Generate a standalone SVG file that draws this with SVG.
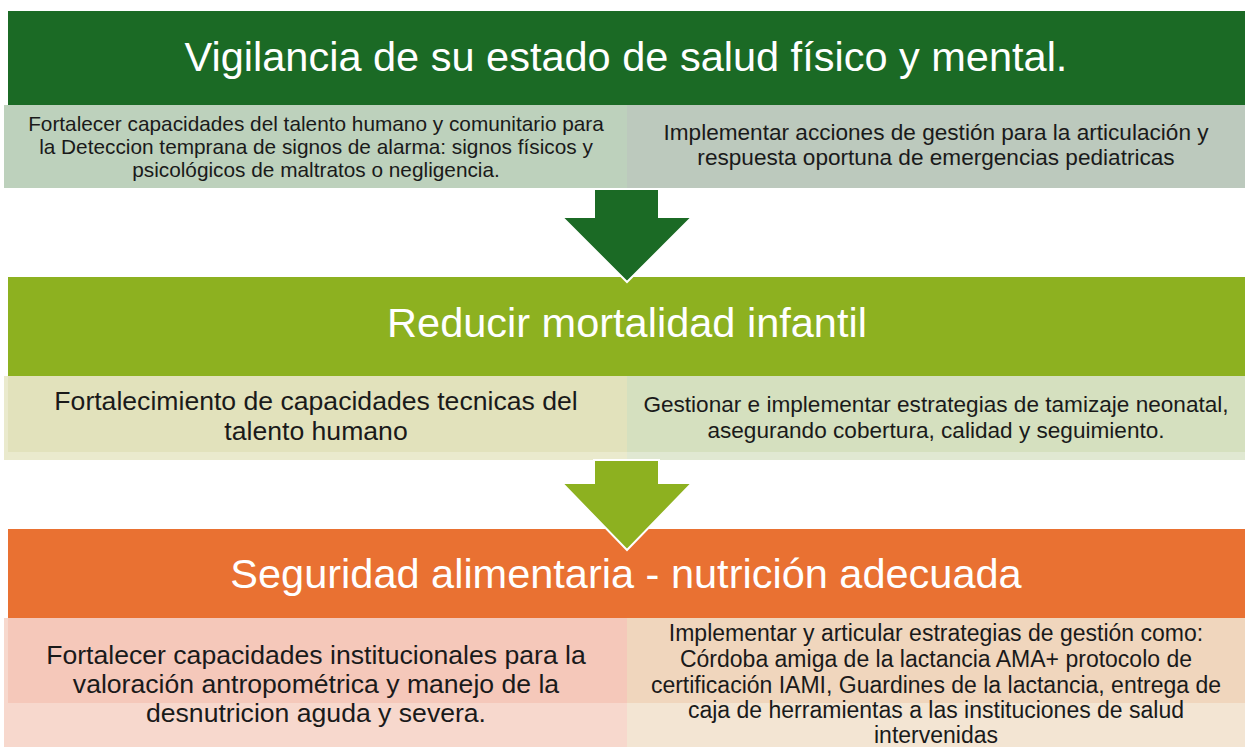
<svg xmlns="http://www.w3.org/2000/svg" width="1245" height="747" viewBox="0 0 1245 747">
<style>
.title{font-family:"Liberation Sans",Arial,sans-serif;fill:#ffffff;text-anchor:middle;font-size:41.5px}
.t{font-family:"Liberation Sans",Arial,sans-serif;fill:#1a1a1a;text-anchor:middle}
.arrow{stroke:#ffffff;stroke-width:2;stroke-linejoin:miter}
</style>
<rect width="1245" height="747" fill="#ffffff"/>
<g id="node-vigilancia">
<rect x="8" y="11" width="1237" height="94" fill="#1b6a25"/>
<text class="title" x="626" y="71">Vigilancia de su estado de salud físico y mental.</text>
</g>
<g id="node-vig-left">
<rect x="4" y="105" width="623" height="83" fill="#bdd1bc"/>
<text class="t" font-size="20.8"><tspan x="316" y="131">Fortalecer capacidades del talento humano y comunitario para</tspan><tspan x="316" y="154">la Deteccion temprana de signos de alarma: signos físicos y</tspan><tspan x="316" y="177">psicológicos de maltratos o negligencia.</tspan></text>
</g>
<g id="node-vig-right">
<rect x="627" y="105" width="618" height="83" fill="#bcc9bd"/>
<text class="t" font-size="22.6"><tspan x="936" y="140">Implementar acciones de gestión para la articulación y</tspan><tspan x="936" y="165">respuesta oportuna de emergencias pediatricas</tspan></text>
</g>
<g id="node-mortalidad">
<rect x="8" y="277" width="1237" height="99" fill="#8db120"/>
<text class="title" x="627" y="337">Reducir mortalidad infantil</text>
</g>
<g id="node-mort-left">
<rect x="4" y="376" width="623" height="84" fill="#eaeacd"/>
<rect x="8" y="376" width="619" height="76" fill="#e2e2bc"/>
<text class="t" font-size="26.6"><tspan x="316" y="410">Fortalecimiento de capacidades tecnicas del</tspan><tspan x="316" y="440">talento humano</tspan></text>
</g>
<g id="node-mort-right">
<rect x="627" y="376" width="618" height="84" fill="#e0e8d2"/>
<rect x="627" y="376" width="618" height="76" fill="#d5e0bf"/>
<text class="t" font-size="22.6"><tspan x="936" y="412">Gestionar e implementar estrategias de tamizaje neonatal,</tspan><tspan x="936" y="438">asegurando cobertura, calidad y seguimiento.</tspan></text>
</g>
<g id="node-seguridad">
<rect x="8" y="529" width="1237" height="89" fill="#e97132"/>
<text class="title" x="626" y="588">Seguridad alimentaria - nutrición adecuada</text>
</g>
<g id="node-seg-left">
<rect x="4" y="618" width="623" height="129" fill="#f7d8cd"/>
<rect x="8" y="618" width="619" height="85" fill="#f5c8ba"/>
<text class="t" font-size="26.6"><tspan x="316" y="664">Fortalecer capacidades institucionales para la</tspan><tspan x="316" y="693">valoración antropométrica y manejo de la</tspan><tspan x="316" y="722">desnutricion aguda y severa.</tspan></text>
</g>
<g id="node-seg-right">
<rect x="627" y="618" width="618" height="129" fill="#f3e5d3"/>
<rect x="627" y="618" width="618" height="85" fill="#f0d6bd"/>
<text class="t" font-size="23"><tspan x="936" y="641">Implementar y articular estrategias de gestión como:</tspan><tspan x="936" y="667">Córdoba amiga de la lactancia AMA+ protocolo de</tspan><tspan x="936" y="693">certificación IAMI, Guardines de la lactancia, entrega de</tspan><tspan x="936" y="718">caja de herramientas a las instituciones de salud</tspan><tspan x="936" y="743">intervenidas</tspan></text>
</g>
<g id="connectors">
<polygon class="arrow" fill="#1b6a25" points="594,189 659,189 659,217 692,217 627,282 562,217 594,217"/>
<polygon class="arrow" fill="#8db120" points="594,460 659,460 659,483 692,483 627,550 562,483 594,483"/>
</g>
</svg>
